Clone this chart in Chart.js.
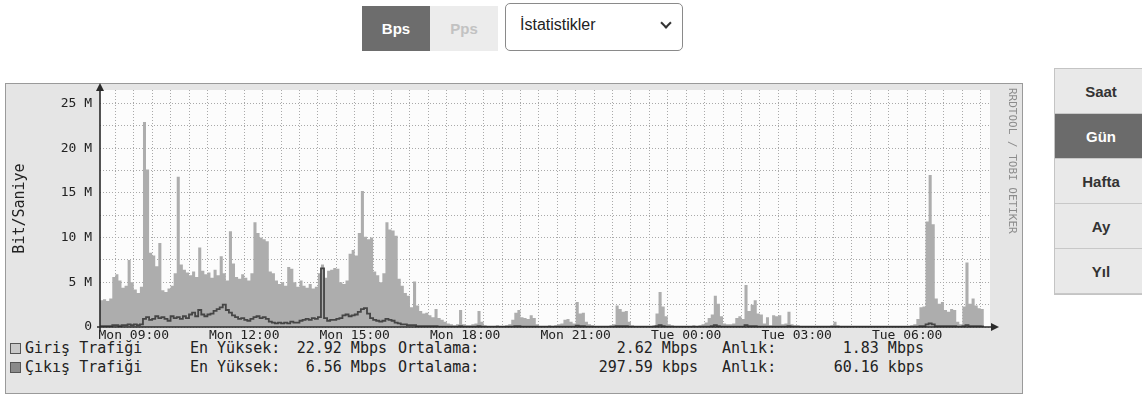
<!DOCTYPE html>
<html lang="tr">
<head>
<meta charset="utf-8">
<title>Trafik Grafiği</title>
<script src="https://cdn.jsdelivr.net/npm/chart.js@4.4.1/dist/chart.umd.min.js"></script>
<style>
  html, body { margin: 0; padding: 0; background: #fff; }
  body { width: 1142px; height: 405px; position: relative; overflow: hidden; font-family: "Liberation Sans", Arial, sans-serif; }
  .seg { position: absolute; top: 6px; height: 45px; display: flex; align-items: center; justify-content: center; font-weight: bold; font-size: 15px; }
  #bps { left: 362px; width: 68px; background: #6d6d6d; color: #fff; }
  #pps { left: 430px; width: 68px; background: #ececec; color: #c2c2c2; }
  #sel { position: absolute; left: 505px; top: 3px; width: 178px; height: 48px; box-sizing: border-box; border: 1px solid #8a8a8a; border-radius: 5px; background: #fff; }
  #sel span.t { position: absolute; left: 14px; top: 12px; font-size: 16px; color: #222; }
  #sel span.c { position: absolute; left: 156px; top: 15px; width: 6px; height: 6px; border-right: 2.5px solid #333; border-bottom: 2.5px solid #333; transform: rotate(45deg); }
  #range { position: absolute; left: 1054px; top: 68px; width: 92px; border: 1px solid #c4c4c4; }
  #range div { height: 45px; box-sizing: border-box; border-bottom: 1px solid #c8c8c8; background: #e9e9e9; color: #333; font-weight: bold; font-size: 15px; display: flex; align-items: center; justify-content: center; }
  #range div.on { background: #6b6b6b; color: #fff; }
  #box { position: absolute; left: 5px; top: 83px; width: 1018px; height: 311px; box-sizing: border-box; background: #e5e5e5; border: 1px solid #9a9a9a; }
  .lg { position: absolute; font-family: "DejaVu Sans Mono", monospace; font-size: 15px; line-height: 18px; color: #222; white-space: pre; }
  .num { text-align: right; width: 110px; }
  .sq { position: absolute; width: 9px; height: 9px; border: 1px solid #555; }
  #c { position: absolute; left: 0; top: 0; }
</style>
</head>
<body>
<div class="seg" id="bps">Bps</div>
<div class="seg" id="pps">Pps</div>
<div id="sel"><span class="t">İstatistikler</span><span class="c"></span></div>

<div id="range">
  <div>Saat</div>
  <div class="on">Gün</div>
  <div>Hafta</div>
  <div>Ay</div>
  <div>Yıl</div>
</div>

<div id="box"></div>
<div id="legend"></div>
<canvas id="c" width="1142" height="405"></canvas>

<script>
// 5 dakikalık örnekler, Pzt 08:05 - Sal 08:05 (saat cinsinden, Pzt 00:00'dan itibaren)
const startHour = 8 + 5 / 60;
const stepHour = 5 / 60;

// Giriş trafiği (Mbit/s)
const inbound = [
  3.0, 3.1, 2.9, 3.2, 5.6, 5.9, 5.2, 4.4, 4.6, 7.5, 5.0,
  4.2, 3.8, 4.5, 22.92, 17.6, 8.3, 8.0, 6.8, 9.4, 4.1, 3.9, 4.3,
  4.6, 6.0, 16.8, 7.0, 6.4, 6.1, 5.8, 6.2, 5.6, 8.9, 6.3, 5.9,
  6.1, 5.5, 6.4, 5.8, 7.9, 6.0, 5.2, 10.7, 7.1, 5.6, 5.4, 5.9,
  5.5, 5.2, 6.0, 11.7, 10.5, 10.0, 9.8, 9.6, 6.2, 6.0, 5.2, 4.8,
  5.0, 4.6, 6.7, 6.5, 5.0, 4.5, 5.2, 4.6, 4.4, 4.8, 4.3, 4.5,
  6.0, 7.0, 5.5, 6.3, 6.4, 6.6, 6.5, 5.0, 4.8, 5.2, 8.2, 8.6,
  8.0, 10.5, 15.2, 10.1, 9.8, 10.0, 6.2, 5.8, 5.0, 6.0, 11.7, 10.9,
  10.8, 10.2, 5.4, 4.6, 3.8, 3.5, 2.2, 5.1, 2.4, 1.8, 1.5, 1.6,
  1.3, 1.1, 2.0, 1.0, 0.8, 0.6, 0.4, 0.3, 0.2, 0.3, 1.9, 0.3,
  0.2, 0.2, 0.3, 0.4, 1.8, 0.6, 0.2, 0.1, 0.1, 0.1, 0.2, 0.1,
  0.1, 0.2, 0.3, 0.8, 1.6, 1.9, 1.1, 1.0, 0.9, 1.3, 1.0, 0.3,
  0.1, 0.1, 0.1, 0.2, 0.1, 0.2, 0.3, 0.4, 0.8, 0.9, 0.6, 0.4,
  2.8, 1.5, 1.6, 0.6, 0.3, 0.2, 0.1, 0.1, 0.1, 0.1, 0.1, 0.2,
  0.3, 2.4, 2.0, 1.7, 1.8, 0.6, 0.2, 0.1, 0.1, 0.1, 0.1, 0.1,
  0.1, 0.2, 1.5, 3.9, 2.3, 1.2, 0.3, 0.2, 0.1, 0.1, 0.1, 0.1,
  0.1, 0.1, 0.2, 0.1, 0.2, 0.3, 0.5, 1.0, 1.4, 3.5, 2.6, 1.2,
  0.4, 0.3, 0.3, 0.4, 1.0, 1.2, 0.9, 4.7, 1.8, 2.5, 3.0, 1.5,
  1.4, 0.4, 1.1, 0.2, 1.3, 1.2, 1.3, 0.3, 0.4, 1.7, 0.3, 0.2,
  0.2, 0.1, 0.1, 0.1, 0.1, 0.1, 0.1, 0.1, 0.1, 0.1, 0.1, 0.2,
  0.6, 0.2, 0.1, 0.1, 0.1, 0.1, 0.1, 0.1, 0.1, 0.1, 0.1, 0.1,
  0.1, 0.1, 0.1, 0.1, 0.1, 0.1, 0.1, 0.1, 0.1, 0.1, 0.1, 0.1,
  0.1, 0.2, 0.3, 0.9, 2.2, 2.3, 11.8, 17.0, 11.5, 3.2, 2.6, 2.8,
  1.9, 1.7, 2.0, 1.9, 0.6, 0.3, 2.3, 7.2, 2.6, 3.2, 2.4, 2.1,
  2.0, 1.83
];

// Çıkış trafiği (Mbit/s)
const outbound = [
  0.1, 0.1, 0.1, 0.1, 0.2, 0.2, 0.1, 0.2, 0.2, 0.3, 0.2,
  0.3, 0.2, 0.3, 0.9, 1.1, 0.8, 0.9, 1.2, 1.0, 1.1, 0.9, 0.7,
  1.2, 1.0, 1.1, 0.9, 1.2, 1.0, 1.4, 1.6, 1.2, 1.9, 1.4, 1.2,
  1.4, 1.5, 1.8, 2.0, 2.2, 2.5, 1.9, 1.6, 1.3, 1.1, 0.9, 1.0,
  0.8, 0.7, 0.9, 1.1, 1.2, 1.0, 1.1, 0.9, 0.6, 0.5, 0.4, 0.5,
  0.4, 0.5, 0.4, 0.6, 0.5, 0.5, 0.7, 0.8, 0.9, 0.8, 1.0, 0.9,
  1.1, 6.56, 1.0, 0.7, 0.8, 0.8, 0.9, 1.0, 1.3, 1.4, 1.2, 1.3,
  1.4, 1.7, 2.0, 2.1, 1.5, 1.0, 0.8, 0.7, 0.6, 0.7, 0.9, 0.8,
  0.7, 0.5, 0.4, 0.3, 0.3, 0.2, 0.2, 0.2, 0.1, 0.1, 0.1, 0.1,
  0.1, 0.1, 0.1, 0.05, 0.05, 0.05, 0.05, 0.05, 0.05, 0.05, 0.1, 0.05,
  0.05, 0.05, 0.05, 0.05, 0.1, 0.05, 0.05, 0.05, 0.05, 0.05, 0.05, 0.05,
  0.05, 0.05, 0.05, 0.05, 0.1, 0.1, 0.05, 0.05, 0.05, 0.05, 0.05, 0.05,
  0.05, 0.05, 0.05, 0.05, 0.05, 0.05, 0.05, 0.05, 0.05, 0.05, 0.05, 0.05,
  0.15, 0.1, 0.1, 0.05, 0.05, 0.05, 0.05, 0.05, 0.05, 0.05, 0.05, 0.05,
  0.05, 0.1, 0.1, 0.1, 0.1, 0.05, 0.05, 0.05, 0.05, 0.05, 0.05, 0.05,
  0.05, 0.05, 0.1, 0.2, 0.1, 0.05, 0.05, 0.05, 0.05, 0.05, 0.05, 0.05,
  0.05, 0.05, 0.05, 0.05, 0.05, 0.05, 0.05, 0.05, 0.1, 0.2, 0.1, 0.05,
  0.05, 0.05, 0.05, 0.05, 0.05, 0.05, 0.05, 0.2, 0.1, 0.1, 0.1, 0.05,
  0.05, 0.05, 0.05, 0.05, 0.05, 0.05, 0.05, 0.05, 0.05, 0.1, 0.05, 0.05,
  0.05, 0.05, 0.05, 0.05, 0.05, 0.05, 0.05, 0.05, 0.05, 0.05, 0.05, 0.05,
  0.05, 0.05, 0.05, 0.05, 0.05, 0.05, 0.05, 0.05, 0.05, 0.05, 0.05, 0.05,
  0.05, 0.05, 0.05, 0.05, 0.05, 0.05, 0.05, 0.05, 0.05, 0.05, 0.05, 0.05,
  0.05, 0.05, 0.05, 0.05, 0.1, 0.1, 0.3, 0.4, 0.3, 0.1, 0.1, 0.1,
  0.1, 0.1, 0.1, 0.1, 0.05, 0.05, 0.1, 0.2, 0.1, 0.1, 0.1, 0.1,
  0.06, 0.06
];

const xTickHours = [9, 12, 15, 18, 21, 24, 27, 30];
const xTickLabels = ['Mon 09:00', 'Mon 12:00', 'Mon 15:00', 'Mon 18:00', 'Mon 21:00', 'Tue 00:00', 'Tue 03:00', 'Tue 06:00'];
const yTickValues = [0, 5, 10, 15, 20, 25];
const yTickLabels = ['0', '5 M', '10 M', '15 M', '20 M', '25 M'];

const seriesNames = ['Giriş Trafiği', 'Çıkış Trafiği'];
const maxLabels = ['22.92 Mbps', '6.56 Mbps'];
const avgLabels = ['2.62 Mbps', '297.59 kbps'];
const lastLabels = ['1.83 Mbps', '60.16 kbps'];
const seriesColors = ['#adadad', '#454545'];
const swatchColors = ['#c9c9c9', '#8a8a8a'];

// legend rows (RRD style text table)
const legend = document.getElementById('legend');
seriesNames.forEach((name, i) => {
  const top = 339 + i * 19;
  const add = (cls, left, text) => {
    const s = document.createElement('span');
    s.className = cls;
    s.style.left = left + 'px';
    s.style.top = top + 'px';
    s.textContent = text;
    legend.appendChild(s);
  };
  const sq = document.createElement('span');
  sq.className = 'sq';
  sq.style.left = '10px';
  sq.style.top = (top + 4) + 'px';
  sq.style.background = swatchColors[i];
  legend.appendChild(sq);
  add('lg', 25, name);
  add('lg', 190, 'En Yüksek:');
  add('lg num', 277, maxLabels[i]);
  add('lg', 398, 'Ortalama:');
  add('lg num', 588, avgLabels[i]);
  add('lg', 722, 'Anlık:');
  add('lg num', 814, lastLabels[i]);
});

const toPoints = arr => arr.map((v, i) => ({ x: startHour + i * stepHour, y: v }));

const rrdFrame = {
  id: 'rrdFrame',
  beforeDraw(chart) {
    const { ctx, chartArea: a } = chart;
    ctx.save();
    ctx.fillStyle = '#fcfcfc';
    ctx.fillRect(a.left, a.top, a.right - a.left, a.bottom - a.top);
    ctx.restore();
  },
  afterDatasetsDraw(chart) {
    const { ctx, chartArea: a } = chart;
    ctx.save();
    ctx.strokeStyle = '#2a2a2a';
    ctx.fillStyle = '#2a2a2a';
    ctx.lineWidth = 1.6;
    ctx.beginPath();
    ctx.moveTo(a.left - 3, a.bottom);
    ctx.lineTo(a.right + 2, a.bottom);
    ctx.moveTo(a.left, a.bottom + 3);
    ctx.lineTo(a.left, a.top - 1);
    ctx.stroke();
    ctx.beginPath();
    ctx.moveTo(a.right + 9, a.bottom);
    ctx.lineTo(a.right + 1, a.bottom - 4);
    ctx.lineTo(a.right + 1, a.bottom + 4);
    ctx.closePath();
    ctx.fill();
    ctx.beginPath();
    ctx.moveTo(a.left, a.top - 7);
    ctx.lineTo(a.left - 4, a.top + 1);
    ctx.lineTo(a.left + 4, a.top + 1);
    ctx.closePath();
    ctx.fill();
    // watermark
    ctx.translate(a.right + 22, 88);
    ctx.rotate(Math.PI / 2);
    ctx.font = '11px "DejaVu Sans Mono"';
    ctx.fillStyle = '#8c8c8c';
    ctx.textBaseline = 'middle';
    ctx.fillText('RRDTOOL / TOBI OETIKER', 0, 0);
    ctx.restore();
  }
};

new Chart(document.getElementById('c'), {
  type: 'line',
  data: {
    datasets: [{
      label: seriesNames[0],
      data: toPoints(inbound),
      order: 1,
      fill: 'origin',
      backgroundColor: seriesColors[0],
      borderWidth: 0,
      stepped: true,
      pointRadius: 0
    }, {
      label: seriesNames[1],
      data: toPoints(outbound),
      order: 0,
      fill: false,
      borderColor: seriesColors[1],
      borderWidth: 1.8,
      stepped: true,
      pointRadius: 0
    }]
  },
  options: {
    responsive: false,
    animation: false,
    devicePixelRatio: 1,
    layout: { padding: { left: 5, top: 90, right: 152, bottom: 58 } },
    plugins: { legend: { display: false }, tooltip: { enabled: false } },
    scales: {
      x: {
        type: 'linear',
        min: startHour,
        max: 32.25,
        afterFit: s => { s.height = 20; },
        afterBuildTicks: s => {
          const t = [];
          for (let h = 8.5; h <= 32; h += 0.5) t.push({ value: h });
          s.ticks = t;
        },
        grid: { color: '#a9a9a9', drawTicks: false },
        border: { display: false, dash: [1, 2] },
        ticks: {
          autoSkip: false,
          maxRotation: 0,
          padding: 1,
          color: '#222',
          font: { family: 'DejaVu Sans Mono', size: 13 },
          callback: v => {
            const i = xTickHours.indexOf(v);
            return i >= 0 ? xTickLabels[i] : '';
          }
        }
      },
      y: {
        min: 0,
        max: 26.5,
        afterFit: s => { s.width = 95; },
        afterBuildTicks: s => {
          const t = [];
          for (let v = 0; v <= 25; v += 2.5) t.push({ value: v });
          s.ticks = t;
        },
        grid: { color: '#a9a9a9', drawTicks: false },
        border: { display: false, dash: [1, 2] },
        title: {
          display: true,
          text: 'Bit/Saniye',
          color: '#222',
          font: { family: 'DejaVu Sans Mono', size: 15 },
          padding: { top: 6, bottom: 0 }
        },
        ticks: {
          padding: 8,
          color: '#222',
          font: { family: 'DejaVu Sans Mono', size: 13 },
          callback: v => {
            const i = yTickValues.indexOf(v);
            return i >= 0 ? yTickLabels[i] : '';
          }
        }
      }
    }
  },
  plugins: [rrdFrame]
});
</script>
</body>
</html>
